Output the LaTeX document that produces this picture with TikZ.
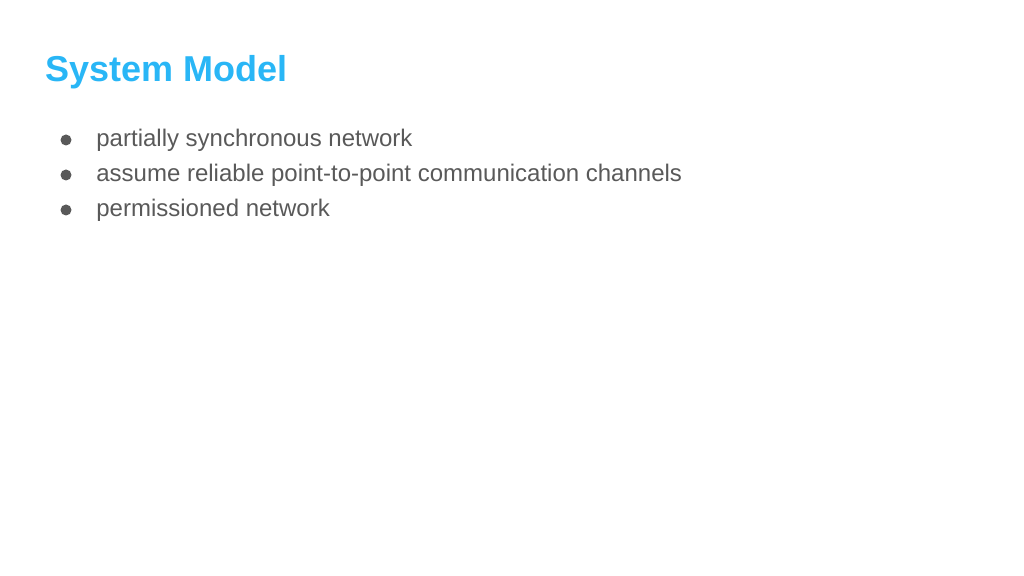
\documentclass[tikz,border=0pt]{standalone}
\usepackage{fontspec}
\setmainfont{Liberation Sans}
\usetikzlibrary{positioning}
\definecolor{titleblue}{HTML}{29B6F6}
\definecolor{bodygray}{HTML}{595959}
\tikzset{
    title/.style={anchor=base west, inner sep=0pt, text=titleblue,
                  font=\fontsize{18}{22}\selectfont\bfseries},
    bullet/.style={anchor=base west, inner sep=0pt, text=bodygray,
                   font=\fontsize{12}{14}\selectfont},
    dot/.style={circle, fill=bodygray, inner sep=0pt, minimum size=5.5pt},
}
\begin{document}
\begin{tikzpicture}[x=0.5pt, y=-0.5pt]
  % page frame, 1024 x 576 px
  \useasboundingbox (0,0) rectangle (1024,576);

  \node[title] (TITLE) at (45,82) {System Model};

  % bullet list
  \foreach \i/\txt/\y in {1/partially synchronous network/147,
                          2/assume reliable point-to-point communication channels/182,
                          3/permissioned network/217} {
    \node[dot] (DOT\i) at (66,\y-7) {};
    \node[bullet] (ITEM\i) at (96,\y) {\txt};
  }
\end{tikzpicture}
\end{document}
